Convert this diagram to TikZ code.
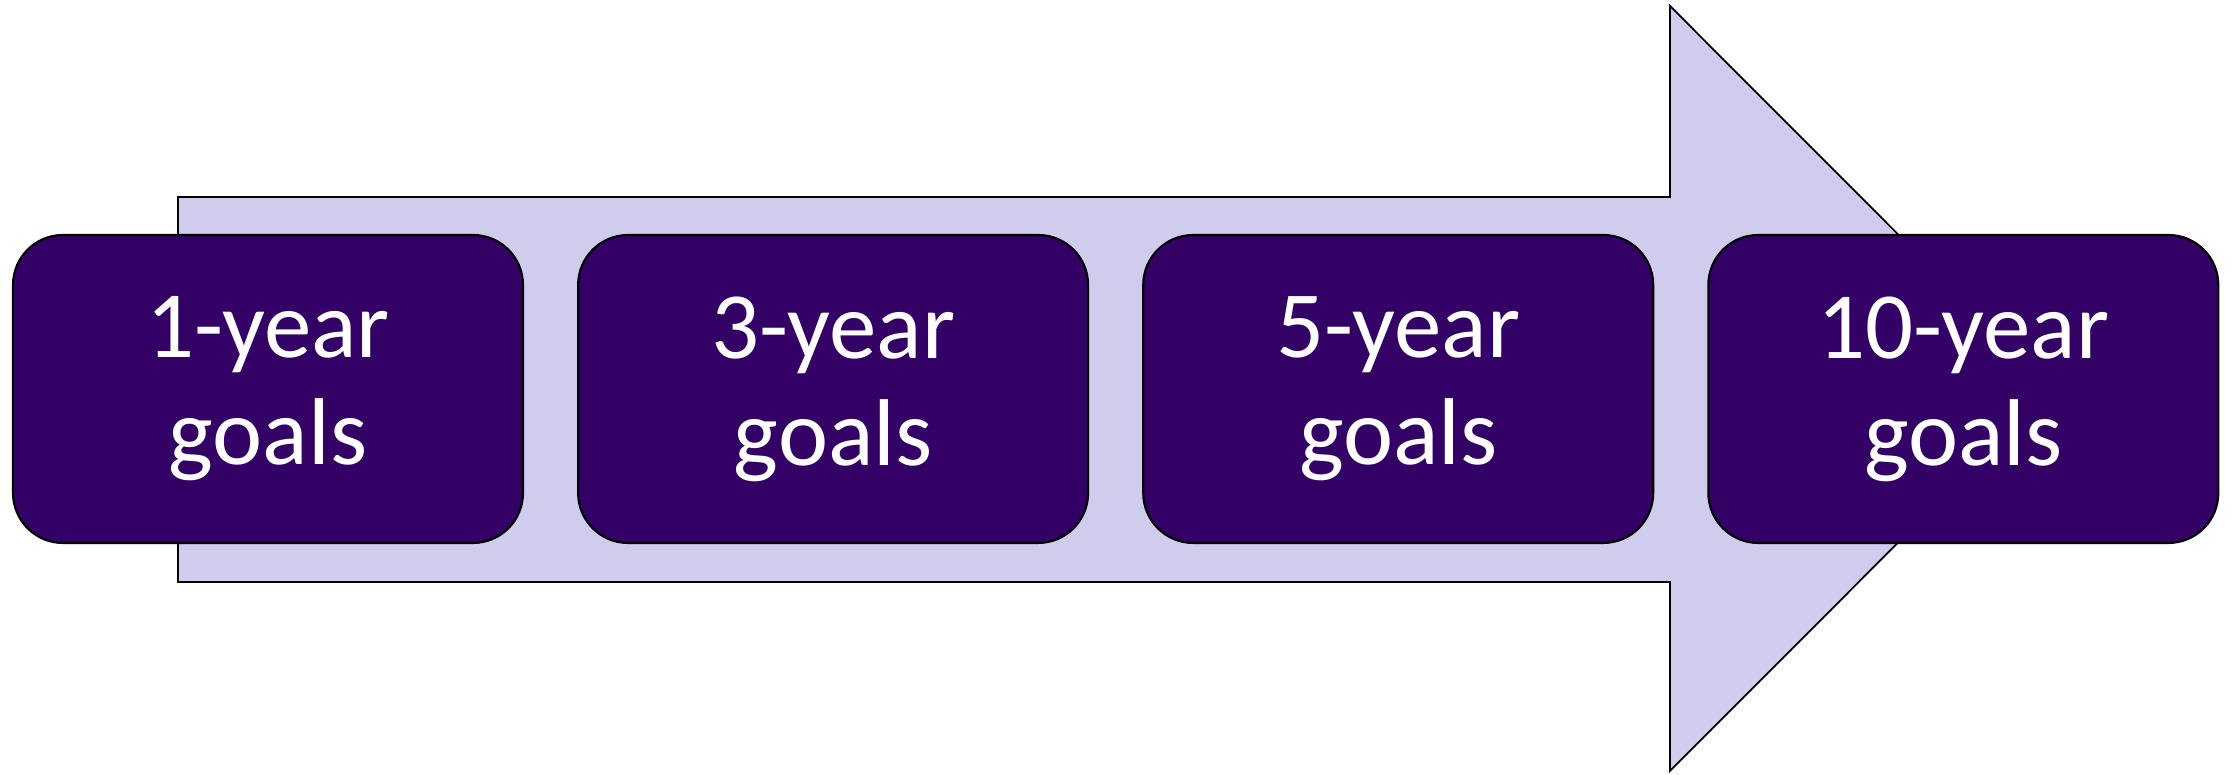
\documentclass[tikz,border=0pt]{standalone}
\usepackage{fontspec}
\setmainfont{Carlito}
\usetikzlibrary{positioning}

\definecolor{arrowfill}{RGB}{208,204,237}
\definecolor{boxfill}{RGB}{51,0,102}

\tikzset{
  goalbox/.style={draw=black, fill=boxfill, text=white, line width=0.6pt,
    rounded corners=0.5cm, minimum width=5.1cm, minimum height=3.08cm,
    align=center, font=\fontsize{27}{30.5}\selectfont}
}

\begin{document}
\begin{tikzpicture}
\useasboundingbox (0,0) rectangle (22.36,7.75);

%% arrow behind the boxes
\draw[fill=arrowfill, line width=0.5pt]
  (1.78,5.78) -- (16.70,5.78) -- (16.70,7.69) -- (20.52,3.865)
  -- (16.70,0.04) -- (16.70,1.93) -- (1.78,1.93) -- cycle;

%% goal boxes
\node[goalbox] (one) at (2.68,3.86) {1-year\\goals};
\node[goalbox, right=0.53cm of one] (three) {3-year\\goals};
\node[goalbox, right=0.53cm of three] (five) {5-year\\goals};
\node[goalbox, right=0.53cm of five] (ten) {10-year\\goals};

\end{tikzpicture}
\end{document}
